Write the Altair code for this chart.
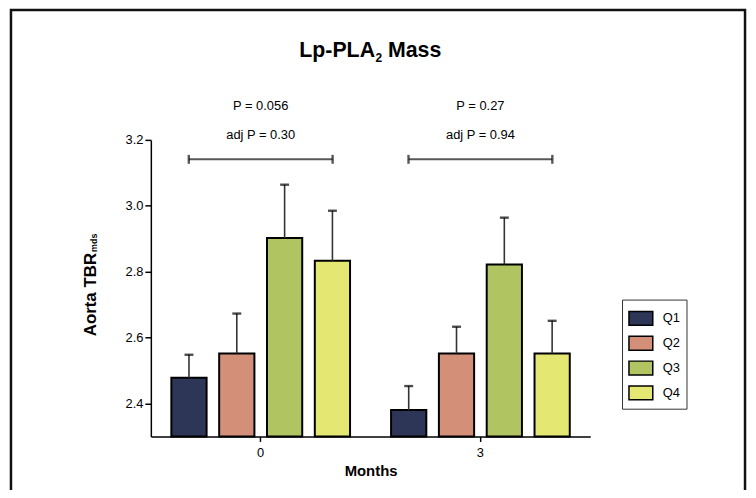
import altair as alt
import pandas as pd

months = ["0", "3"]
quartiles = ["Q1", "Q2", "Q3", "Q4"]
colors = ["#2d3656", "#d38f78", "#b0c462", "#e4e872"]

means_0 = [2.478, 2.552, 2.902, 2.833]
upper_0 = [2.548, 2.673, 3.064, 2.985]
means_3 = [2.380, 2.552, 2.822, 2.552]
upper_3 = [2.453, 2.633, 2.964, 2.651]

p_text = ["P = 0.056", "P = 0.27"]
adj_text = ["adj P = 0.30", "adj P = 0.94"]
bracket_y = 3.141
p_y = 3.302
adj_y = 3.215

y_ticks = [2.4, 2.6, 2.8, 3.0, 3.2]

rows = []
for m, means, ups in [("0", means_0, upper_0), ("3", means_3, upper_3)]:
    for q, v, u in zip(quartiles, means, ups):
        rows.append({"Month": m, "Q": q, "mean": v, "upper": u})
df = pd.DataFrame(rows)
ann = pd.DataFrame({"Month": months, "p": p_text, "adj": adj_text})

FONT = "Liberation Sans"
W, H = 443, 299

xenc = alt.X("Month:N", scale=alt.Scale(domain=months, paddingInner=0, paddingOuter=0),
             axis=alt.Axis(title="Months", labelAngle=0, titleFontWeight="bold",
                           titleFontSize=15, titlePadding=4, labelPadding=5))
xoff = alt.XOffset("Q:N", scale=alt.Scale(domain=quartiles, paddingInner=0.263, paddingOuter=0.429))
yscale = alt.Scale(domain=[2.3, 3.2], zero=False, nice=False)

base = alt.Chart(df)

bars = base.mark_bar(stroke="black", strokeWidth=2).encode(
    x=xenc,
    xOffset=xoff,
    y=alt.Y("mean:Q", scale=yscale,
            axis=alt.Axis(values=y_ticks, format=".1f", title=None, grid=False, tickSize=6)),
    y2=alt.datum(2.3),
    color=alt.Color("Q:N", scale=alt.Scale(domain=quartiles, range=colors),
                    legend=alt.Legend(title=None, orient="none", legendX=475, legendY=161,
                                      strokeColor="#333", padding=6, fillColor="white",
                                      symbolType="M-1,-0.58H1V0.58H-1Z", symbolSize=576,
                                      symbolStrokeColor="black", symbolStrokeWidth=1.5,
                                      symbolOpacity=1,
                                      labelFontSize=13, labelFont=FONT, labelOffset=9,
                                      rowPadding=2)),
)

err = base.mark_rule(color="#333", strokeWidth=1.6).encode(
    x="Month:N", xOffset=xoff, y="mean:Q", y2="upper:Q")

caps = base.mark_tick(orient="horizontal", size=9, thickness=2.4, color="black").encode(
    x="Month:N", xOffset=xoff, y="upper:Q")

ab = alt.Chart(ann)
bracket = ab.mark_tick(orient="horizontal", size=145, thickness=2, color="#111").encode(
    x="Month:N", y=alt.datum(bracket_y))
end_l = ab.mark_tick(orient="vertical", size=9, thickness=2.4, color="#111", xOffset=-72.5).encode(
    x="Month:N", y=alt.datum(bracket_y))
end_r = ab.mark_tick(orient="vertical", size=9, thickness=2.4, color="#111", xOffset=72.5).encode(
    x="Month:N", y=alt.datum(bracket_y))

ptxt = ab.mark_text(font=FONT, fontSize=13, baseline="middle", color="black").encode(
    x="Month:N", y=alt.datum(p_y), text="p:N")
adjtxt = ab.mark_text(font=FONT, fontSize=13, baseline="middle", color="black").encode(
    x="Month:N", y=alt.datum(adj_y), text="adj:N")

# Title "Lp-PLA2 Mass" with a true subscript 2
t_main = alt.Chart(pd.DataFrame({"t": ["Lp-PLA"]})).mark_text(
    font=FONT, fontSize=21.5, fontWeight="bold", baseline="alphabetic", align="right", color="black"
).encode(x=alt.value(226), y=alt.value(-84), text="t:N")
t_sub = alt.Chart(pd.DataFrame({"t": ["2"]})).mark_text(
    font=FONT, fontSize=12, fontWeight="bold", baseline="alphabetic", align="left", color="black"
).encode(x=alt.value(226.5), y=alt.value(-79), text="t:N")
t_rest = alt.Chart(pd.DataFrame({"t": ["Mass"]})).mark_text(
    font=FONT, fontSize=21.5, fontWeight="bold", baseline="alphabetic", align="left", color="black"
).encode(x=alt.value(239), y=alt.value(-84), text="t:N")

ytitle = alt.Chart(pd.DataFrame({"t": ["Aorta TBR"]})).mark_text(
    font=FONT, fontSize=17, fontWeight="bold", angle=270, align="left",
    baseline="alphabetic", color="black"
).encode(x=alt.value(-55), y=alt.value(198), text="t:N")

ysub = alt.Chart(pd.DataFrame({"t": ["mds"]})).mark_text(
    font=FONT, fontSize=9, fontWeight="bold", angle=270, align="left",
    baseline="alphabetic", color="black"
).encode(x=alt.value(-54), y=alt.value(113), text="t:N")

frame = alt.Chart(pd.DataFrame({"a": [0]})).mark_rect(
    filled=False, stroke="#111", strokeWidth=2.5
).encode(x=alt.value(-141), x2=alt.value(599), y=alt.value(-131), y2=alt.value(420))

chart = alt.layer(frame, bars, err, caps, bracket, end_l, end_r, ptxt, adjtxt,
                  t_main, t_sub, t_rest, ytitle, ysub).properties(
    width=W, height=H,
    autosize=alt.AutoSizeParams(type="none"),
    padding={"left": 144, "top": 131, "right": 159, "bottom": 52},
    background="white",
).configure_view(stroke=None).configure_axis(
    domainColor="black", domainWidth=1.5, tickColor="black", tickWidth=1.5, tickSize=5,
    labelFont=FONT, labelFontSize=13, labelColor="black", titleFont=FONT, titleColor="black"
)

chart.save("out.html", embed_options={"renderer": "svg", "actions": False})
